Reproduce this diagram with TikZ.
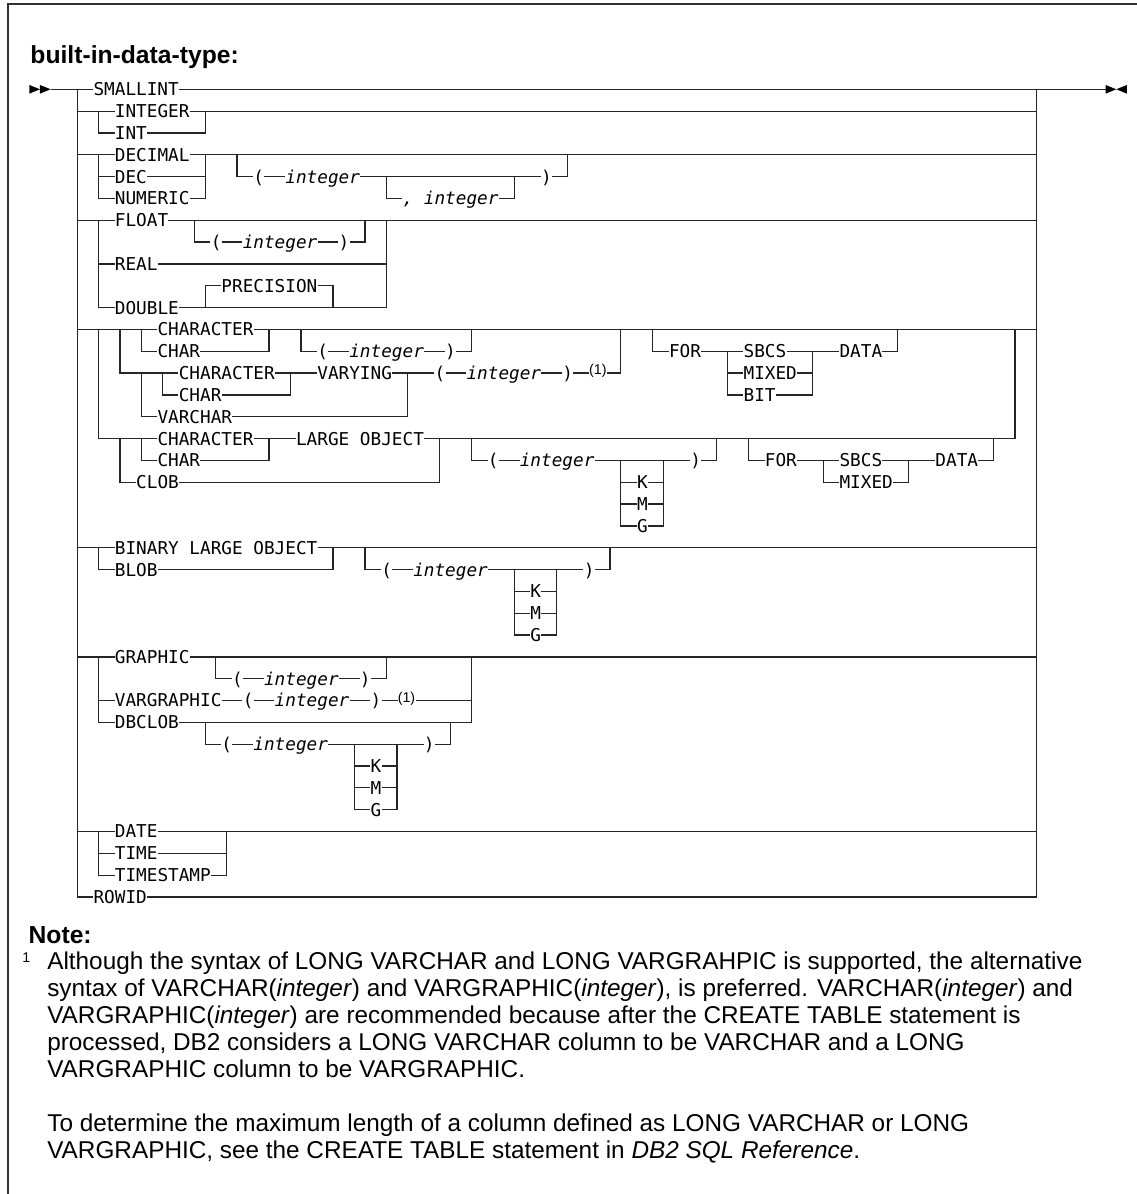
\documentclass[tikz,border=0pt]{standalone}
\usepackage{fontspec}
\setmainfont{Liberation Sans}
\newfontfamily\railfont{DejaVu Sans Mono}[ItalicFont={DejaVu Sans Mono Oblique}]

\tikzset{
  kw/.style={anchor=west, inner sep=0pt, text height=7.74pt, text depth=0pt,
    font=\railfont\fontsize{10.62}{12}\selectfont},
  var/.style={kw, font=\railfont\fontsize{10.62}{12}\selectfont\itshape},
  fn/.style={inner sep=0pt, text height=6pt, text depth=4.2pt, font=\fontsize{8.5}{10}\selectfont},
  rail/.style={line width=0.75pt, draw=black!85},
  frame/.style={line width=1.1pt, draw=black!80},
  heading/.style={anchor=base west, inner sep=0pt, font=\bfseries\fontsize{14.8}{17}\selectfont},
}

\begin{document}
\begin{tikzpicture}[x=6.394pt, y=-13.098pt]
        \useasboundingbox (-2.749,-4.091) rectangle (103.94,50.605);
        \draw[frame] (-1.97,51) |- (104.5,-3.894);
        \node[heading] (title) at (0.08,-1.19) {built-in-data-type:};

        \coordinate (start) at (2,0);
        \coordinate (stop) at (101,0);
        \coordinate (railL) at (4.5,0);
        \coordinate (railR) at (94.5,0);
        \foreach \x in {0,1} \fill[black] (\x,-0.2) -- (\x+1,0) -- (\x,0.2) -- cycle;
        \fill[black] (101,-0.2) -- (102,0) -- (101,0.2) -- cycle;
        \fill[black] (103,-0.2) -- (102,0) -- (103,0.2) -- cycle;

        \node[kw] (smallint) at (6,0) {SMALLINT};
        \node[kw] (integer) at (8,1) {INTEGER};
        \node[kw] (int) at (8,2) {INT};
        \node[kw] (decimal) at (8,3) {DECIMAL};
        \node[kw] (dec) at (8,4) {DEC};
        \node[kw] (numeric) at (8,5) {NUMERIC};
        \node[kw] (dopen) at (21,4) {(};
        \node[var] (dprec) at (24,4) {integer};
        \node[kw] (dclose) at (48,4) {)};
        \node[var] (dscale) at (35,5) {, integer};
        \node[kw] (float) at (8,6) {FLOAT};
        \node[kw] (fopen) at (17,7) {(};
        \node[var] (fprec) at (20,7) {integer};
        \node[kw] (fclose) at (29,7) {)};
        \node[kw] (real) at (8,8) {REAL};
        \node[kw] (precision) at (18,9) {PRECISION};
        \node[kw] (double) at (8,10) {DOUBLE};

        \coordinate (intL) at (6.5,1);
        \coordinate (intR) at (16.5,1);
        \coordinate (decL) at (6.5,3);
        \coordinate (decR) at (16.5,3);
        \coordinate (dpL) at (19.5,3);
        \coordinate (dpR) at (50.5,3);
        \coordinate (dsL) at (33.5,4);
        \coordinate (dsR) at (45.5,4);
        \coordinate (fltL) at (6.5,6);
        \coordinate (fltR) at (33.5,6);
        \coordinate (fpL) at (15.5,6);
        \coordinate (fpR) at (31.5,6);
        \coordinate (prL) at (16.5,10);
        \coordinate (prR) at (28.5,10);

        \draw[rail] (start) -- (smallint) -- (stop);
        \draw[rail] (railL |- intL) -- (integer) -- (railR |- intL);
        \draw[rail] (intL) |- (int) -| (intR);
        \draw[rail] (railL |- decL) -- (decimal) -- (railR |- decL);
        \draw[rail] (decL) |- (numeric) -| (decR);
        \draw[rail] (decL |- dec) -- (dec) -- (decR |- dec);
        \draw[rail] (dpL) |- (dopen) -- (dprec) -- (dclose) -| (dpR);
        \draw[rail] (dsL) |- (dscale) -| (dsR);
        \draw[rail] (railL |- fltL) -- (float) -- (railR |- fltL);
        \draw[rail] (fltL) |- (double) -| (fltR);
        \draw[rail] (fltL |- real) -- (real) -- (fltR |- real);
        \draw[rail] (fpL) |- (fopen) -- (fprec) -- (fclose) -| (fpR);
        \draw[rail] (prL) |- (precision) -| (prR);

        \node[kw] (character) at (12,11) {CHARACTER};
        \node[kw] (char) at (12,12) {CHAR};
        \node[kw] (copen) at (27,12) {(};
        \node[var] (clen) at (30,12) {integer};
        \node[kw] (cclose) at (39,12) {)};
        \node[kw] (vcharacter) at (14,13) {CHARACTER};
        \node[kw] (vchar) at (14,14) {CHAR};
        \node[kw] (varying) at (27,13) {VARYING};
        \node[kw] (vopen) at (38,13) {(};
        \node[var] (vlen) at (41,13) {integer};
        \node[kw] (vclose) at (50,13) {)};
        \node[fn] (vnote) at (53.35,13) {(1)};
        \node[kw] (varchar) at (12,15) {VARCHAR};
        \node[kw] (for) at (60,12) {FOR};
        \node[kw] (sbcs) at (67,12) {SBCS};
        \node[kw] (mixed) at (67,13) {MIXED};
        \node[kw] (bit) at (67,14) {BIT};
        \node[kw] (data) at (76,12) {DATA};
        \node[kw] (lcharacter) at (12,16) {CHARACTER};
        \node[kw] (lchar) at (12,17) {CHAR};
        \node[kw] (largeobj) at (25,16) {LARGE OBJECT};
        \node[kw] (clob) at (10,18) {CLOB};
        \node[kw] (lopen) at (43,17) {(};
        \node[var] (llen) at (46,17) {integer};
        \node[kw] (lclose) at (62,17) {)};
        \node[kw] (lk) at (57,18) {K};
        \node[kw] (lm) at (57,19) {M};
        \node[kw] (lg) at (57,20) {G};
        \node[kw] (lfor) at (69,17) {FOR};
        \node[kw] (lsbcs) at (76,17) {SBCS};
        \node[kw] (lmixed) at (76,18) {MIXED};
        \node[kw] (ldata) at (85,17) {DATA};

        \coordinate (charL) at (6.5,11);
        \coordinate (charR) at (92.5,11);
        \coordinate (kwL) at (10.5,11);
        \coordinate (kwR) at (22.5,11);
        \coordinate (clL) at (25.5,11);
        \coordinate (clR) at (41.5,11);
        \coordinate (fixL) at (8.5,11);
        \coordinate (fixR) at (55.5,11);
        \coordinate (vL) at (10.5,13);
        \coordinate (vR) at (35.5,13);
        \coordinate (vkL) at (12.5,13);
        \coordinate (vkR) at (24.5,13);
        \coordinate (forL) at (58.5,11);
        \coordinate (forR) at (81.5,11);
        \coordinate (sbL) at (65.5,12);
        \coordinate (sbR) at (73.5,12);
        \coordinate (lobL) at (8.5,16);
        \coordinate (lobR) at (38.5,16);
        \coordinate (lkwL) at (10.5,16);
        \coordinate (lkwR) at (22.5,16);
        \coordinate (llL) at (41.5,16);
        \coordinate (llR) at (64.5,16);
        \coordinate (lkmL) at (55.5,17);
        \coordinate (lkmR) at (59.5,17);
        \coordinate (lforL) at (67.5,16);
        \coordinate (lforR) at (90.5,16);
        \coordinate (lsbL) at (74.5,17);
        \coordinate (lsbR) at (82.5,17);

        \draw[rail] (railL |- charL) -- (character) -- (railR |- charL);
        \draw[rail] (charL) |- (lcharacter) -- (largeobj) -| (charR);
        \draw[rail] (kwL) |- (char) -| (kwR);
        \draw[rail] (clL) |- (copen) -- (clen) -- (cclose) -| (clR);
        \draw[rail] (fixL) |- (vcharacter) -- (varying) -- (vopen) -- (vlen) -- (vclose) -- (vnote) -| (fixR);
        \draw[rail] (vkL) |- (vchar) -| (vkR);
        \draw[rail] (vL) |- (varchar) -| (vR);
        \draw[rail] (forL) |- (for) -- (sbcs) -- (data) -| (forR);
        \draw[rail] (sbL) |- (bit) -| (sbR);
        \draw[rail] (sbL |- mixed) -- (mixed) -- (sbR |- mixed);
        \draw[rail] (lobL) |- (clob) -| (lobR);
        \draw[rail] (lkwL) |- (lchar) -| (lkwR);
        \draw[rail] (llL) |- (lopen) -- (llen) -- (lclose) -| (llR);
        \draw[rail] (lkmL) |- (lg) -| (lkmR);
        \draw[rail] (lkmL |- lk) -- (lk) -- (lkmR |- lk);
        \draw[rail] (lkmL |- lm) -- (lm) -- (lkmR |- lm);
        \draw[rail] (lforL) |- (lfor) -- (lsbcs) -- (ldata) -| (lforR);
        \draw[rail] (lsbL) |- (lmixed) -| (lsbR);

        \node[kw] (binary) at (8,21) {BINARY LARGE OBJECT};
        \node[kw] (blob) at (8,22) {BLOB};
        \node[kw] (bopen) at (33,22) {(};
        \node[var] (blen) at (36,22) {integer};
        \node[kw] (bclose) at (52,22) {)};
        \node[kw] (bk) at (47,23) {K};
        \node[kw] (bm) at (47,24) {M};
        \node[kw] (bg) at (47,25) {G};

        \coordinate (binL) at (6.5,21);
        \coordinate (binR) at (28.5,21);
        \coordinate (blL) at (31.5,21);
        \coordinate (blR) at (54.5,21);
        \coordinate (bkmL) at (45.5,22);
        \coordinate (bkmR) at (49.5,22);

        \draw[rail] (railL |- binL) -- (binary) -- (railR |- binL);
        \draw[rail] (binL) |- (blob) -| (binR);
        \draw[rail] (blL) |- (bopen) -- (blen) -- (bclose) -| (blR);
        \draw[rail] (bkmL) |- (bg) -| (bkmR);
        \draw[rail] (bkmL |- bk) -- (bk) -- (bkmR |- bk);
        \draw[rail] (bkmL |- bm) -- (bm) -- (bkmR |- bm);

        \node[kw] (graphic) at (8,26) {GRAPHIC};
        \node[kw] (gopen) at (19,27) {(};
        \node[var] (glen) at (22,27) {integer};
        \node[kw] (gclose) at (31,27) {)};
        \node[kw] (vargraphic) at (8,28) {VARGRAPHIC};
        \node[kw] (vgopen) at (20,28) {(};
        \node[var] (vglen) at (23,28) {integer};
        \node[kw] (vgclose) at (32,28) {)};
        \node[fn] (vgnote) at (35.4,28) {(1)};
        \node[kw] (dbclob) at (8,29) {DBCLOB};
        \node[kw] (dbopen) at (18,30) {(};
        \node[var] (dblen) at (21,30) {integer};
        \node[kw] (dbclose) at (37,30) {)};
        \node[kw] (dbk) at (32,31) {K};
        \node[kw] (dbm) at (32,32) {M};
        \node[kw] (dbg) at (32,33) {G};

        \coordinate (grL) at (6.5,26);
        \coordinate (grR) at (41.5,26);
        \coordinate (gpL) at (17.5,26);
        \coordinate (gpR) at (33.5,26);
        \coordinate (dbL) at (16.5,29);
        \coordinate (dbR) at (39.5,29);
        \coordinate (dbkmL) at (30.5,30);
        \coordinate (dbkmR) at (34.5,30);

        \draw[rail] (railL |- grL) -- (graphic) -- (railR |- grL);
        \draw[rail] (grL) |- (dbclob) -| (grR);
        \draw[rail] (grL |- vargraphic) -- (vargraphic) -- (vgopen) -- (vglen) -- (vgclose) -- (vgnote) -- (grR |- vargraphic);
        \draw[rail] (gpL) |- (gopen) -- (glen) -- (gclose) -| (gpR);
        \draw[rail] (dbL) |- (dbopen) -- (dblen) -- (dbclose) -| (dbR);
        \draw[rail] (dbkmL) |- (dbg) -| (dbkmR);
        \draw[rail] (dbkmL |- dbk) -- (dbk) -- (dbkmR |- dbk);
        \draw[rail] (dbkmL |- dbm) -- (dbm) -- (dbkmR |- dbm);

        \node[kw] (date) at (8,34) {DATE};
        \node[kw] (time) at (8,35) {TIME};
        \node[kw] (timestamp) at (8,36) {TIMESTAMP};
        \node[kw] (rowid) at (6,37) {ROWID};

        \coordinate (dtL) at (6.5,34);
        \coordinate (dtR) at (18.5,34);

        \draw[rail] (railL |- dtL) -- (date) -- (railR |- dtL);
        \draw[rail] (dtL) |- (timestamp) -| (dtR);
        \draw[rail] (dtL |- time) -- (time) -- (dtR |- time);
        \draw[rail] (railL) |- (rowid) -| (railR);

        \node[heading] (note) at (-0.09,39.12) {Note:};
        \node[anchor=base west, inner sep=0pt, font=\fontsize{8.5}{10}\selectfont] (noteref) at (-0.68,40.02) {1};
        \node[anchor=base west, inner sep=0pt, font=\fontsize{14.6}{16.2}\selectfont] (notetext) at (1.66,40.34)
          {\begin{tabular}[t]{@{}l@{}}
           Although the syntax of LONG VARCHAR and LONG VARGRAHPIC is supported, the alternative\\
           syntax of VARCHAR(\textit{integer}) and VARGRAPHIC(\textit{integer}), is preferred. VARCHAR(\textit{integer}) and\\
           VARGRAPHIC(\textit{integer}) are recommended because after the CREATE TABLE statement is\\
           processed, DB2 considers a LONG VARCHAR column to be VARCHAR and a LONG\\
           VARGRAPHIC column to be VARGRAPHIC.\\
           \\
           To determine the maximum length of a column defined as LONG VARCHAR or LONG\\
           VARGRAPHIC, see the CREATE TABLE statement in \textit{DB2 SQL Reference}.
           \end{tabular}};
\end{tikzpicture}
\end{document}
